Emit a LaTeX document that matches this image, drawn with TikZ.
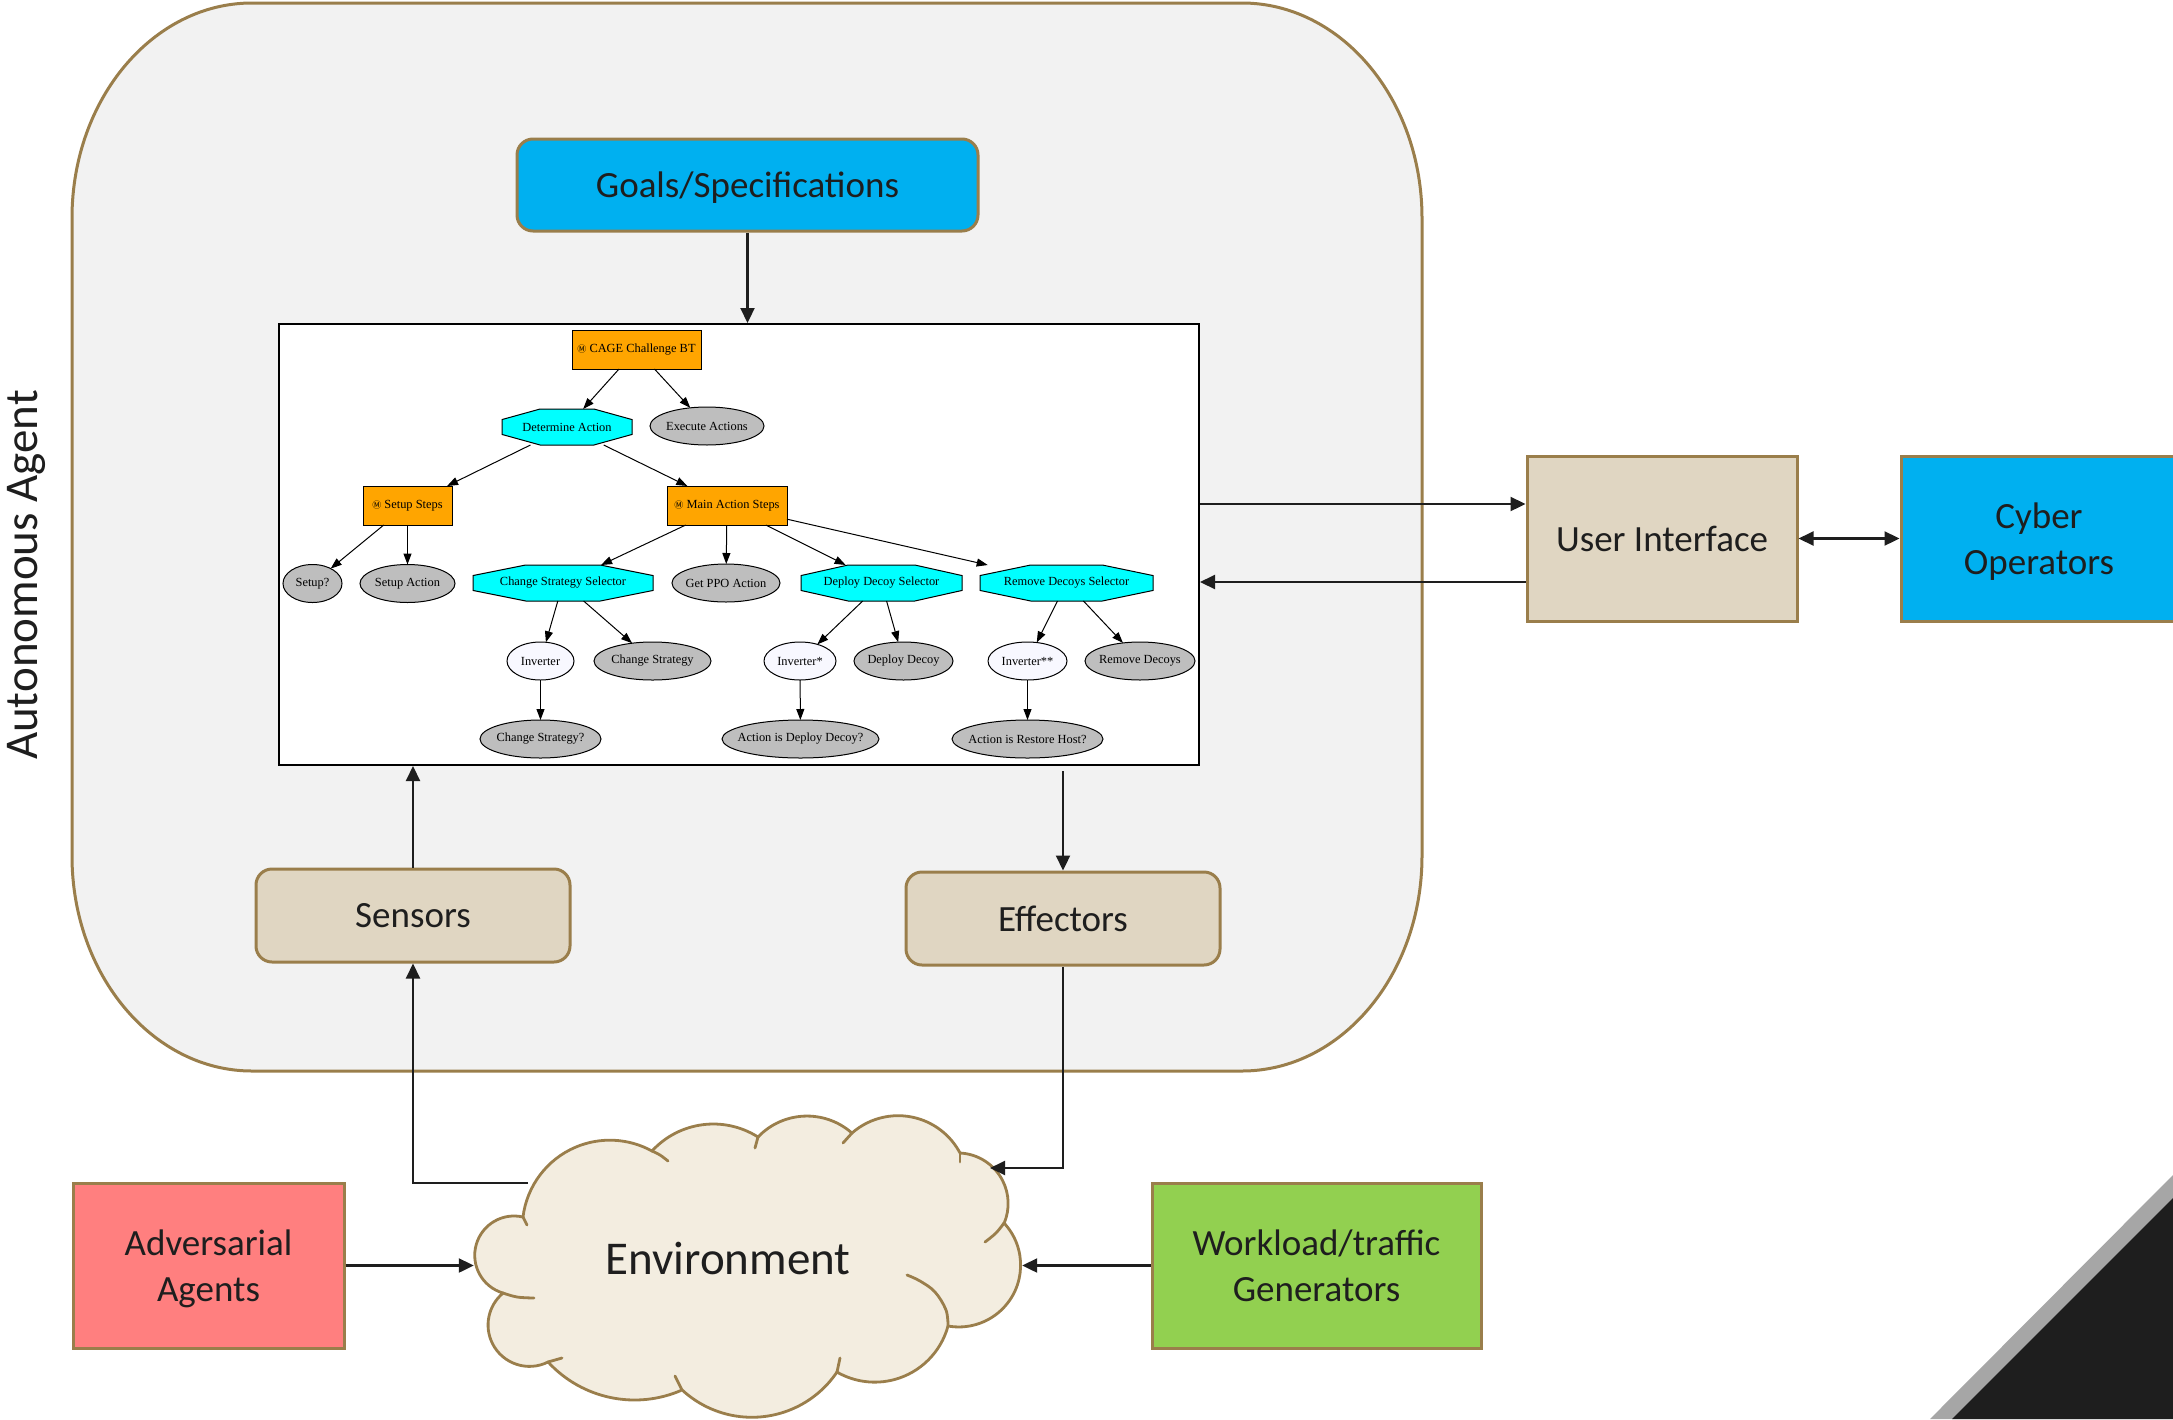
\documentclass[tikz,border=0pt]{standalone}
\usepackage{fontspec}
\setmainfont{Carlito}
\newfontfamily\treefont{Liberation Serif}
\newfontfamily\symfont{Noto Sans CJK JP}
\usetikzlibrary{shapes.geometric,arrows.meta,calc}
\pgfdeclarelayer{layzero}
\pgfdeclarelayer{layone}
\pgfsetlayers{layzero,layone,main}
\definecolor{brd}{HTML}{9A7E4B}
\definecolor{panelbg}{HTML}{F2F2F2}
\definecolor{skyb}{HTML}{00B0F0}
\definecolor{tanbox}{HTML}{E0D6C2}
\definecolor{salm}{HTML}{FF7F7F}
\definecolor{lgreen}{HTML}{92D050}
\definecolor{cream}{HTML}{F3EDE0}
\definecolor{btorange}{HTML}{FFA500}
\definecolor{btcyan}{HTML}{00FFFF}
\definecolor{btgray}{HTML}{BEBEBE}
\definecolor{btwhite}{HTML}{F8F8FF}
\definecolor{txt}{HTML}{1E1E1E}
\definecolor{trigray}{HTML}{A6A6A6}
\newcommand{\octo}[1]{%
  \draw[line width=1pt, fill=btcyan]
    ($(#1.north west)!0.293!(#1.north east)$) -- ($(#1.north west)!0.707!(#1.north east)$)
 -- ($(#1.north east)!0.293!(#1.south east)$) -- ($(#1.north east)!0.707!(#1.south east)$)
 -- ($(#1.south west)!0.707!(#1.south east)$) -- ($(#1.south west)!0.293!(#1.south east)$)
 -- ($(#1.north west)!0.707!(#1.south west)$) -- ($(#1.north west)!0.293!(#1.south west)$) -- cycle;}
\newcommand{\mk}{{\symfont\fontsize{9}{10}\selectfont Ⓜ}}
\newcommand{\zw}[1]{\makebox[0pt]{#1}}
\tikzset{
  box/.style={draw=brd, line width=3pt, text=txt, font=\fontsize{37}{44}\selectfont, align=center, inner sep=0pt, text depth=0pt},
  rbox/.style={box, rounded corners=16pt},
  arr/.style={draw=txt, line width=2.2pt, -{Triangle[length=15pt,width=14pt]}},
  btedge/.style={draw=black, line width=1pt, -{Triangle[length=11pt,width=8pt]}},
  btfont/.style={font=\treefont\fontsize{12.4}{14}\selectfont, text=black},
  btbox/.style={btfont, draw, line width=1pt, fill=btorange, minimum height=39pt, inner sep=0pt, outer sep=0pt},
  btell/.style={btfont, ellipse, draw, line width=1pt, fill=btgray, minimum height=38pt, inner sep=0pt, outer sep=0pt},
  btinv/.style={btell, fill=btwhite},
  btoct/.style={btfont, rectangle, minimum height=36pt, inner sep=0pt, outer sep=0pt},
  cloudline/.style={draw=brd, line width=2.8pt, line join=round, line cap=round},
  sm/.style={smooth, tension=0.6}
}
\begin{document}
\begin{tikzpicture}[x=1pt,y=-1pt]
\useasboundingbox (0,0) rectangle (2173,1419);
\begin{pgfonlayer}{layzero}
\fill[white] (0,0) rectangle (2173,1419);
\draw[draw=brd, fill=panelbg, line width=3pt]
  (252,3) -- (1242,3) .. controls (1341,3) and (1422,99) .. (1422,218)
  -- (1422,856) .. controls (1422,975) and (1341,1071) .. (1242,1071)
  -- (252,1071) .. controls (153,1071) and (72,975) .. (72,856)
  -- (72,218) .. controls (72,99) and (153,3) .. (252,3) -- cycle;
\node[draw=black, line width=2pt, fill=white, minimum width=920pt, minimum height=441pt, inner sep=0pt] (bt) at (739,544.5) {};
\end{pgfonlayer}

% rotated label
\node[rotate=90, text=txt, font=\fontsize{47}{52}\selectfont, inner sep=0pt] (aa) at (26,575) {Autonomous Agent};

% main boxes
\node[rbox, fill=skyb, minimum width=461pt, minimum height=92pt] (goals) at (747.5,185) {Goals/Specifications};
\node[rbox, fill=tanbox, minimum width=314pt, minimum height=93pt] (sens) at (413,915.5) {Sensors};
\node[rbox, fill=tanbox, minimum width=314pt, minimum height=93pt] (eff) at (1063,918.5) {Effectors};
\node[box, fill=tanbox, minimum width=270pt, minimum height=165pt] (ui) at (1662,538.5) {User Interface};
\node[box, fill=skyb, minimum width=276pt, minimum height=165pt] (cyb) at (2039,538.5) {Cyber\\[2pt]Operators};
\node[box, fill=salm, minimum width=271pt, minimum height=165pt] (adv) at (208.5,1265.5) {Adversarial\\[2pt]Agents};
\node[box, fill=lgreen, minimum width=329pt, minimum height=165pt] (work) at (1316.5,1265.5) {Workload/traffic\\[2pt]Generators};

% environment cloud (puffs as circular arcs; radii in canvas units, angles in canvas orientation)
\draw[cloudline, fill=cream] (503,1293)
  arc[start angle=-106.3, end angle=-283.2, radius=39.3pt] -- (523,1217)
  arc[start angle=-187, end angle=-298.8, radius=87.5pt] -- (652,1151)
  arc[start angle=-222.5, end angle=-302.5, radius=83.2pt] -- (758,1137)
  arc[start angle=-223.7, end angle=-311.5, radius=67.8pt] -- (852,1133)
  arc[start angle=-228.8, end angle=-332.2, radius=70pt] -- (960,1153)
  arc[start angle=-272.8, end angle=-382.5, radius=50.6pt] -- (1004,1223)
  arc[start angle=-317, end angle=-460.1, radius=61.8pt] -- (948,1326)
  arc[start angle=-15.1, end angle=-119.8, radius=75.9pt] -- (837,1372)
  arc[start angle=-34, end angle=-132.8, radius=102.7pt] -- (682,1390)
  arc[start angle=-66.2, end angle=-137.4, radius=117.5pt] -- (548,1362)
  arc[start angle=-63.4, end angle=-230.4, radius=41.4pt] -- cycle;
\draw[cloudline] (523,1217) -- (527,1225);
\draw[cloudline] plot[sm] coordinates {(652,1151) (660,1155) (668,1161)};
\draw[cloudline] (758,1137) -- (755,1148);
\draw[cloudline] (852,1133) -- (843,1143);
\draw[cloudline] (960,1153) -- (960,1162);
\draw[cloudline] plot[sm] coordinates {(1004,1223) (996,1233) (985,1242)};
\draw[cloudline] plot[sm] coordinates {(948,1326) (946,1310) (935,1292) (920,1281) (907,1275)};
\draw[cloudline] (837,1372) -- (840,1358);
\draw[cloudline] (682,1390) -- (675,1376);
\draw[cloudline] (548,1362) -- (562,1358);
\draw[cloudline] plot[sm] coordinates {(503,1293) (517,1297) (534,1298)};
\node[ellipse, minimum width=548pt, minimum height=300pt, inner sep=0pt] (env) at (748,1265.5) {};
\node[text=txt, font=\fontsize{47}{52}\selectfont, inner sep=0pt] (envt) at (728,1258) {Environment};
\coordinate (envs) at (528,1183);
\coordinate (enve) at (990,1168);

% corner decoration
\fill[trigray] (1930,1419) -- (2173,1175) -- (2173,1419) -- cycle;
\fill[txt] (1952,1419) -- (2173,1198) -- (2173,1419) -- cycle;

% main connectors
\draw[arr] (goals.south) -- (goals.south |- bt.north);
\draw[arr] (sens.north) -- (sens.north |- bt.south);
\draw[arr] ([yshift=-5pt]eff.north |- bt.south) -- (eff.north);
\draw[arr] ([yshift=40.5pt]bt.east) -- ([yshift=40.5pt]bt.east -| ui.west);
\draw[arr] ([yshift=-43.5pt]ui.west) -- ([yshift=-43.5pt]ui.west -| bt.east);
\draw[arr, {Triangle[length=15pt,width=14pt]}-{Triangle[length=15pt,width=14pt]}] (ui.east) -- (cyb.west);
\draw[arr] (envs) -| (sens.south);
\draw[arr] (eff.south) |- (enve);
\draw[arr] (adv.east) -- (env.west);
\draw[arr] (work.west) -- (env.east);

% behaviour tree
\node[btbox, minimum width=129pt] (cage) at (636.5,349.5) {\mk\ CAGE Challenge BT};
\node[btoct, minimum width=130pt] (det) at (567,427) {Determine Action};
\node[btell, minimum width=114pt] (exe) at (707,426) {\zw{Execute Actions}};
\node[btbox, minimum width=89pt] (setup) at (407.5,505.5) {\mk\ Setup Steps};
\node[btbox, minimum width=120pt] (mainst) at (727,505.5) {\mk\ Main Action Steps};
\node[btell, minimum width=59pt] (setupq) at (312.5,583.5) {\zw{Setup?}};
\node[btell, minimum width=95pt] (setupa) at (407.5,583.5) {\zw{Setup Action}};
\node[btoct, minimum width=180pt] (css) at (563,583) {Change Strategy Selector};
\node[btell, minimum width=108pt] (ppo) at (726,583) {\zw{Get PPO Action}};
\node[btoct, minimum width=161pt] (dds) at (881.5,583) {Deploy Decoy Selector};
\node[btoct, minimum width=173pt] (rds) at (1066.5,583) {Remove Decoys Selector};
\node[btinv, minimum width=67pt] (inva) at (540.5,661) {\zw{Inverter}};
\node[btell, minimum width=117pt] (chs) at (652.5,661) {\zw{Change Strategy}};
\node[btinv, minimum width=72pt] (invb) at (800,661) {\zw{Inverter*}};
\node[btell, minimum width=99pt] (ddc) at (903.5,661) {\zw{Deploy Decoy}};
\node[btinv, minimum width=79pt] (invc) at (1027.5,661) {\zw{Inverter**}};
\node[btell, minimum width=110pt] (rmd) at (1140,661) {\zw{Remove Decoys}};
\node[btell, minimum width=121pt] (chsq) at (540.5,739) {\zw{Change Strategy?}};
\node[btell, minimum width=157pt] (addq) at (800.5,739) {\zw{Action is Deploy Decoy?}};
\node[btell, minimum width=151pt] (arhq) at (1027.5,739) {\zw{Action is Restore Host?}};
\begin{pgfonlayer}{layone}
\octo{det}\octo{css}\octo{dds}\octo{rds}
\end{pgfonlayer}
\draw[btedge] (cage) -- (det);
\draw[btedge] (cage) -- (exe);
\draw[btedge] (det) -- (setup);
\draw[btedge] (det) -- (mainst);
\draw[btedge] (setup) -- (setupq);
\draw[btedge] (setup) -- (setupa);
\draw[btedge] (mainst) -- (css);
\draw[btedge] (mainst) -- (ppo);
\draw[btedge] (mainst) -- (dds);
\draw[btedge] (mainst) -- (rds);
\draw[btedge] (css) -- (inva);
\draw[btedge] (css) -- (chs);
\draw[btedge] (dds) -- (invb);
\draw[btedge] (dds) -- (ddc);
\draw[btedge] (rds) -- (invc);
\draw[btedge] (rds) -- (rmd);
\draw[btedge] (inva) -- (chsq);
\draw[btedge] (invb) -- (addq);
\draw[btedge] (invc) -- (arhq);
\end{tikzpicture}
\end{document}
